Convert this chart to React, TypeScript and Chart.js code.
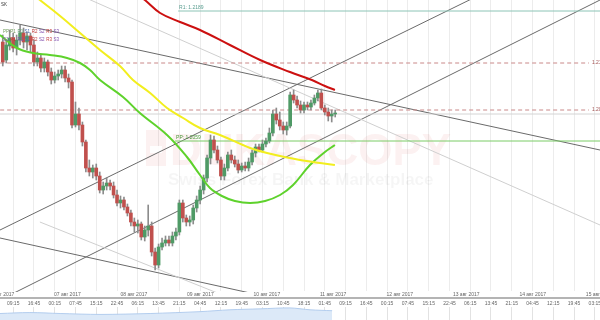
import React, { useEffect, useRef } from 'react';
import { Chart, registerables } from 'chart.js';
Chart.register(...registerables);

// ---- time axis (hours from 06 авг 2017 00:00) ----
const tMin = 4.5;
const tMax = 221.1;
const candleStart = 5.5;
const candleStep = 1.25;
const firstTimeTick = 9.25;
const timeTickStep = 7.5;
const timeTickLabels = ['09:15','16:45','00:15','07:45','15:15','22:45','06:15','13:45','21:15','04:45','12:15','19:45','03:15','10:45','18:15','01:45','09:15','16:45','00:15','07:45','15:15','22:45','06:15','13:45','21:15','04:45','12:15','19:45','03:15'];
const dateTickStep = 24;
const dateTickLabels = ['06 авг 2017','07 авг 2017','08 авг 2017','09 авг 2017','10 авг 2017','11 авг 2017','12 авг 2017','13 авг 2017','14 авг 2017','15 авг 2017'];

// ---- candles ----
const opens = [1.2158,1.2140,1.2154,1.2162,1.2152,1.2160,1.2167,1.2158,1.2164,1.2155,
 1.2138,1.2142,1.2132,1.2138,1.2128,1.2120,1.2124,1.2126,1.2130,1.2122,
 1.2118,1.2075,1.2086,1.2075,1.2058,1.2032,1.2028,1.2032,1.2024,1.2010,
 1.2014,1.2017,1.2014,1.2005,1.1997,1.2000,1.1993,1.1987,1.1978,1.1974,
 1.1976,1.1963,1.1970,1.1974,1.1948,1.1935,1.1953,1.1957,1.1960,1.1957,
 1.1964,1.1968,1.1997,1.1982,1.1978,1.1980,1.1992,1.2000,1.2010,1.2022,
 1.2042,1.2060,1.2050,1.2040,1.2024,1.2032,1.2045,1.2040,1.2036,1.2030,
 1.2034,1.2032,1.2038,1.2047,1.2053,1.2050,1.2056,1.2059,1.2067,1.2086,
 1.2080,1.2074,1.2070,1.2074,1.2105,1.2100,1.2095,1.2090,1.2095,1.2093,
 1.2097,1.2102,1.2107,1.2092,1.2088,1.2084,1.2086];
const highs = [1.2165,1.2160,1.2170,1.2167,1.2165,1.2175,1.2172,1.2168,1.2167,1.2160,
 1.2148,1.2145,1.2142,1.2140,1.2132,1.2128,1.2130,1.2134,1.2134,1.2126,
 1.2120,1.2098,1.2092,1.2078,1.2060,1.2040,1.2035,1.2036,1.2028,1.2018,
 1.2022,1.2020,1.2018,1.2010,1.2004,1.2003,1.1996,1.1990,1.1982,1.1980,
 1.1978,1.1974,1.1995,1.1978,1.1952,1.1956,1.1962,1.1964,1.1964,1.1968,
 1.1972,1.2000,1.2000,1.1985,1.1984,1.1995,1.2004,1.2014,1.2025,1.2045,
 1.2065,1.2064,1.2054,1.2043,1.2036,1.2048,1.2050,1.2044,1.2040,1.2037,
 1.2038,1.2042,1.2050,1.2056,1.2056,1.2060,1.2062,1.2072,1.2090,1.2092,
 1.2088,1.2078,1.2078,1.2108,1.2110,1.2104,1.2099,1.2098,1.2098,1.2100,
 1.2105,1.2110,1.2111,1.2095,1.2092,1.2090,1.2090];
const lows = [1.2134,1.2137,1.2150,1.2148,1.2145,1.2155,1.2152,1.2150,1.2148,1.2134,
 1.2134,1.2128,1.2128,1.2124,1.2116,1.2117,1.2120,1.2122,1.2118,1.2112,
 1.2072,1.2073,1.2070,1.2054,1.2028,1.2024,1.2022,1.2020,1.2007,1.2006,
 1.2010,1.2010,1.2002,1.1994,1.1992,1.1990,1.1984,1.1974,1.1968,1.1967,
 1.1960,1.1959,1.1964,1.1944,1.1930,1.1932,1.1950,1.1954,1.1954,1.1954,
 1.1960,1.1965,1.1978,1.1974,1.1974,1.1976,1.1988,1.1996,1.2006,1.2018,
 1.2036,1.2047,1.2037,1.2020,1.2020,1.2029,1.2037,1.2033,1.2027,1.2028,
 1.2029,1.2029,1.2035,1.2043,1.2048,1.2048,1.2053,1.2057,1.2064,1.2076,
 1.2070,1.2066,1.2065,1.2072,1.2097,1.2092,1.2087,1.2087,1.2090,1.2090,
 1.2095,1.2099,1.2090,1.2085,1.2079,1.2078,1.2083];
const closes = [1.2138,1.2155,1.2162,1.2152,1.2160,1.2167,1.2158,1.2164,1.2155,1.2138,
 1.2142,1.2132,1.2138,1.2128,1.2120,1.2124,1.2126,1.2130,1.2122,1.2118,
 1.2075,1.2086,1.2075,1.2058,1.2032,1.2028,1.2032,1.2024,1.2010,1.2014,
 1.2017,1.2014,1.2005,1.1997,1.2000,1.1993,1.1987,1.1978,1.1974,1.1976,
 1.1963,1.1970,1.1974,1.1948,1.1935,1.1953,1.1957,1.1960,1.1957,1.1964,
 1.1968,1.1997,1.1982,1.1978,1.1980,1.1992,1.2000,1.2010,1.2022,1.2042,
 1.2060,1.2050,1.2040,1.2024,1.2032,1.2045,1.2040,1.2036,1.2030,1.2034,
 1.2032,1.2038,1.2047,1.2053,1.2050,1.2056,1.2059,1.2067,1.2086,1.2080,
 1.2074,1.2070,1.2074,1.2105,1.2100,1.2095,1.2090,1.2095,1.2093,1.2097,
 1.2102,1.2107,1.2092,1.2088,1.2084,1.2086,1.2087];

// ---- moving averages ----
const redMaTimes = [51.4,56.8,62.3,69.5,76.7,87.5,98.4,109.2,117.1,121.8,125.4];
const redMaValues = [1.2212,1.2200,1.2187,1.2178,1.2170,1.2155,1.2140,1.2128,1.2120,1.2114,1.2110];
const yellowMaTimes = [15.3,18.9,26.2,33.4,40.6,47.8,52.5,58.7,64.8,70.6,76.7,83.9,94.8,100.9,112.8,125.4];
const yellowMaValues = [1.2208,1.2200,1.2184,1.2167,1.2150,1.2134,1.2120,1.2107,1.2092,1.2082,1.2072,1.2065,1.2052,1.2047,1.2040,1.2035];
const greenMaTimes = [4.5,10.6,16.4,22.5,28.7,33.4,37.0,40.6,48.9,55.0,64.8,72.0,76.7,80.3,84.6,89.3,94.8,100.2,105.6,110.3,116.4,121.8,125.4];
const greenMaValues = [1.2165,1.2152,1.2147,1.2145,1.2142,1.2137,1.2130,1.2120,1.2103,1.2087,1.2065,1.2043,1.2025,1.2012,1.2004,1.1999,1.1997,1.1999,1.2005,1.2015,1.2035,1.2048,1.2055];

// ---- trend lines (value at tMin, value at tMax) ----
const edgeTimes = [tMin, tMax];
const topTrend = [1.2180, 1.2050];
const bottomTrend = [1.1962, 1.1830];
const upperChannel = [1.1970, 1.2264];
const lowerChannel = [1.1900, 1.2200];
const lightTrend = [1.2240, 1.1975];
const lightLowTimes = [18.9, 112.8];
const lightLowTrend = [1.1978, 1.1874];

// ---- levels ----
const dashedLevels = [1.2137, 1.2090];
const dashedEnd = 217.1;
const grayLevel = 1.2086;
const r1Level = 1.2189;
const r1Start = 68.8;
const r1Label = 'R1: 1.2189';
const ppLevel = 1.2059;
const ppStart = 67.7;
const ppLabel = 'PP: 1.2059';
const titleText = 'SK';
const pivotRow1 = ['PP','P1','R1','S1','R2','S2','R3','S3'];
const pivotRow2 = ['S1','P1','R1','S1','R2','S2','R3','S3'];
const pivotColors1 = ['#6f9a5a','#6f9a5a','#5a9a6a','#4a6ab0','#c03838','#8050b0','#c03838','#8050b0'];
const pivotColors2 = ['#8050b0','#c03838','#8050b0','#4a6ab0','#c03838','#8050b0','#c03838','#8050b0'];

// ---- navigator ----
const navTimes = [4.5,15.3,26.2,40.6,58.7,76.7,87.5,98.4,109.2,116.4,124.4];
const navValues = [7,8,7,6,7,9,11,12,13,11,10];

const RED = '#c0504d';
const GREEN = '#4f9a66';
const FONT = '"Liberation Sans", Arial, sans-serif';

const seg = (times: number[], vals: number[], color: string, width: number, extra: any = {}) => ({
  type: 'line',
  data: times.map((t, i) => ({ x: t, y: vals[i] })),
  borderColor: color,
  borderWidth: width,
  pointRadius: 0,
  tension: 0,
  order: 6,
  ...extra,
});

const watermark = {
  id: 'watermark',
  beforeDatasetsDraw(chart: any) {
    const ctx = chart.ctx;
    ctx.save();
    ctx.fillStyle = 'rgba(208,48,48,0.065)';
    ctx.fillRect(146, 130, 20, 36);
    ctx.fillStyle = 'rgba(255,255,255,0.9)';
    ctx.fillRect(150, 146, 12, 7);
    ctx.fillStyle = 'rgba(208,48,48,0.065)';
    ctx.font = `bold 44px ${FONT}`;
    ctx.textBaseline = 'alphabetic';
    ctx.fillText('DUKASCOPY', 170, 165);
    ctx.fillStyle = 'rgba(0,0,0,0.04)';
    ctx.font = `bold 17px ${FONT}`;
    ctx.fillText('Swiss Forex Bank & Marketplace', 168, 185);
    ctx.restore();
  },
};

const labels = {
  id: 'labels',
  afterDatasetsDraw(chart: any) {
    const ctx = chart.ctx;
    const xs = chart.scales.x;
    const ys = chart.scales.y;
    ctx.save();
    ctx.font = `4.5px ${FONT}`;
    ctx.textBaseline = 'middle';
    ctx.fillStyle = '#333';
    ctx.fillText(titleText, 1, 5);
    let x = 3;
    pivotRow1.forEach((s, i) => { ctx.fillStyle = pivotColors1[i]; ctx.fillText(s, x, 32); x += 7.2; });
    x = 3;
    pivotRow2.forEach((s, i) => { ctx.fillStyle = pivotColors2[i]; ctx.fillText(s, x, 40); x += 7.2; });
    ctx.font = `5px ${FONT}`;
    ctx.textBaseline = 'bottom';
    ctx.fillStyle = '#5a9e90';
    ctx.fillText(r1Label, xs.getPixelForValue(r1Start) + 1, ys.getPixelForValue(r1Level) - 1);
    ctx.fillStyle = '#4a9a3a';
    ctx.fillText(ppLabel, xs.getPixelForValue(ppStart) + 1, ys.getPixelForValue(ppLevel) - 1);
    ctx.textBaseline = 'middle';
    ctx.fillStyle = '#a05050';
    dashedLevels.forEach((l) => ctx.fillText(l.toFixed(4), xs.getPixelForValue(dashedEnd) + 3, ys.getPixelForValue(l)));
    ctx.restore();
  },
};

export default function App() {
  const mainRef = useRef<HTMLCanvasElement>(null);
  const navRef = useRef<HTMLCanvasElement>(null);

  useEffect(() => {
    document.body.style.margin = '0';
    document.body.style.overflow = 'hidden';
    const candleTimes = opens.map((_, i) => candleStart + i * candleStep);
    const wickData = candleTimes.map((t, i) => ({ x: t, y: [lows[i], highs[i]] }));
    const bodyData = candleTimes.map((t, i) => ({ x: t, y: [opens[i], closes[i]] }));
    const bodyColors = opens.map((o, i) => (closes[i] >= o ? GREEN : RED));
    const timeTicks = timeTickLabels.map((_, i) => ({ value: firstTimeTick + i * timeTickStep }));
    const dateTicks = dateTickLabels.map((_, i) => ({ value: i * dateTickStep }));

    const datasets: any[] = [
      ...dashedLevels.map((l) => seg([tMin - 5, dashedEnd], [l, l], '#c98888', 1, { borderDash: [4, 3] })),
      seg([tMin - 5, tMax + 5], [grayLevel, grayLevel], '#d4d4d4', 1),
      seg([r1Start, tMax + 5], [r1Level, r1Level], '#8cc4b6', 1),
      seg([ppStart, tMax + 5], [ppLevel, ppLevel], '#7acc66', 1),
      seg(edgeTimes, lightTrend, '#cfcfcf', 1),
      seg(lightLowTimes, lightLowTrend, '#cfcfcf', 1),
      seg(edgeTimes, topTrend, '#6a6a6a', 1),
      seg(edgeTimes, bottomTrend, '#6a6a6a', 1),
      seg(edgeTimes, upperChannel, '#6a6a6a', 1),
      seg(edgeTimes, lowerChannel, '#6a6a6a', 1),
      { type: 'bar', data: wickData, backgroundColor: '#8c8c8c', barThickness: 1, grouped: false, order: 4 },
      { type: 'bar', data: bodyData, backgroundColor: bodyColors, barThickness: 3, grouped: false, minBarLength: 1, order: 3 },
      seg(yellowMaTimes, yellowMaValues, '#f2ee1e', 2, { tension: 0.4, order: 1 }),
      seg(greenMaTimes, greenMaValues, '#5ed22c', 2, { tension: 0.4, order: 1 }),
      seg(redMaTimes, redMaValues, '#cc1010', 2, { tension: 0.4, order: 1 }),
    ];

    const main = new Chart(mainRef.current!, {
      type: 'bar',
      data: { datasets },
      plugins: [watermark, labels],
      options: {
        animation: false,
        responsive: true,
        maintainAspectRatio: false,
        events: [],
        layout: { padding: 0 },
        plugins: { legend: { display: false }, tooltip: { enabled: false } },
        scales: {
          x: {
            type: 'linear', min: tMin, max: tMax, offset: false, position: 'bottom', weight: 2,
            afterBuildTicks: (s: any) => { s.ticks = timeTicks.map((t) => ({ ...t })); },
            afterFit: (s: any) => { s.height = 9; s.paddingLeft = 0; s.paddingRight = 0; },
            ticks: {
              autoSkip: false, maxRotation: 0, minRotation: 0, padding: 3, color: '#666',
              font: { size: 5, family: FONT },
              callback: (_v: any, i: number) => timeTickLabels[i],
            },
            grid: { color: '#ececec', drawTicks: false, offset: false },
            border: { display: true, color: '#b4b4b4', width: 2 },
          },
          xd: {
            type: 'linear', min: tMin, max: tMax, offset: false, position: 'bottom', weight: 1,
            afterBuildTicks: (s: any) => { s.ticks = dateTicks.map((t) => ({ ...t })); },
            afterFit: (s: any) => { s.height = 6; s.paddingLeft = 0; s.paddingRight = 0; },
            ticks: {
              autoSkip: false, maxRotation: 0, minRotation: 0, padding: 0, align: 'start', color: '#666',
              font: { size: 5, family: FONT },
              callback: (_v: any, i: number) => dateTickLabels[i],
            },
            grid: { display: false, drawTicks: false },
            border: { display: false },
          },
          y: { display: false, min: 1.1908, max: 1.2200 },
        },
      } as any,
    } as any);

    const nav = new Chart(navRef.current!, {
      type: 'line',
      data: {
        datasets: [{
          data: navTimes.map((t, i) => ({ x: t, y: navValues[i] })),
          borderColor: '#b3cdee', borderWidth: 1, backgroundColor: '#dce9f8',
          fill: 'origin', pointRadius: 0, tension: 0.3,
        }],
      },
      options: {
        animation: false, responsive: true, maintainAspectRatio: false, events: [],
        layout: { padding: 0 },
        plugins: { legend: { display: false }, tooltip: { enabled: false } },
        scales: {
          x: {
            type: 'linear', min: tMin, max: tMax,
            afterBuildTicks: (s: any) => { s.ticks = timeTicks.map((t) => ({ ...t })); },
            afterFit: (s: any) => { s.height = 0; s.paddingLeft = 0; s.paddingRight = 0; },
            ticks: { display: false },
            grid: { color: '#e2e2e2', drawTicks: false },
            border: { display: false },
          },
          y: { display: false, min: 0, max: 14 },
        },
      } as any,
    } as any);

    return () => { main.destroy(); nav.destroy(); };
  }, []);

  return (
    <div style={{ width: 600, height: 320, position: 'relative', background: '#fff', overflow: 'hidden' }}>
      <div style={{ position: 'absolute', left: 0, top: 0, width: 600, height: 307 }}>
        <canvas ref={mainRef} />
      </div>
      <div style={{ position: 'absolute', left: 0, top: 307, width: 600, height: 13 }}>
        <canvas ref={navRef} />
      </div>
    </div>
  );
}
